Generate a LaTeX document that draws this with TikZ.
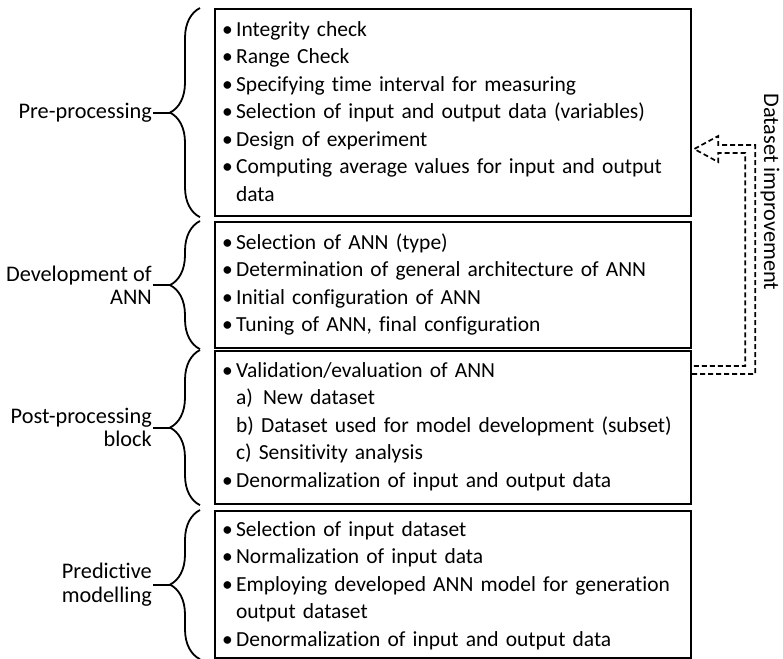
\documentclass[tikz,border=0pt]{standalone}
\usepackage{fontspec}
\setmainfont{Carlito}[Ligatures=NoCommon]
\usetikzlibrary{positioning,calc,decorations.pathreplacing}
\newcommand{\itm}{\makebox[14pt][l]{\textbullet}}
\newcommand{\cont}{\hspace*{14pt}}
\tikzset{
  stage/.style={rectangle,draw=black,line width=2.2pt,anchor=north west,text width=462pt,
                inner xsep=7pt,inner ysep=0pt,align=left,font=\fontsize{21.5pt}{27.5pt}\selectfont},
  lbl/.style={align=right,inner xsep=1pt,inner ysep=0pt,font=\fontsize{22.3pt}{23.5pt}\selectfont},
  brc/.style={decorate,decoration={brace,amplitude=30pt},line width=1.8pt},
  tie/.style={line width=1.8pt},
  fb/.style={line width=1.7pt,dash pattern=on 5pt off 3pt},
}
\begin{document}
\begin{tikzpicture}[x=1pt,y=-1pt]
  \useasboundingbox (0,0) rectangle (783,658);
  % the four stages
  \node[stage,text height=27pt,text depth=180pt] (pre) at (214,8) {%
    \itm Integrity check\\
    \itm Range Check\\
    \itm Specifying time interval for measuring\\
    \itm Selection of input and output data (variables)\\
    \itm Design of experiment\\
    \itm Computing average values for input and output\\
    \cont data};
  \node[stage,text height=27pt,text depth=99pt] (dev) at (214,221) {%
    \itm Selection of ANN (type)\\
    \itm Determination of general architecture of ANN\\
    \itm Initial configuration of ANN\\
    \itm Tuning of ANN, final configuration};
  \node[stage,text height=26pt,text depth=127pt] (post) at (214,350) {%
    \itm Validation/evaluation of ANN\\
    \cont\makebox[27pt][l]{a)}New dataset\\
    \cont b) Dataset used for model development (subset)\\
    \cont c) Sensitivity analysis\\
    \itm Denormalization of input and output data};
  \node[stage,text height=25pt,text depth=122pt] (pred) at (214,510) {%
    \itm Selection of input dataset\\
    \itm Normalization of input data\\
    \itm Employing developed ANN model for generation\\
    \cont output dataset\\
    \itm Denormalization of input and output data};
  % labels with braces
  \node[lbl,left=61pt of pre.west] (lpre) {Pre-processing};
  \node[lbl,left=61pt of dev.west] (ldev) {Development of\\ANN};
  \node[lbl,left=61pt of post.west] (lpost) {Post-processing\\block};
  \node[lbl,left=61pt of pred.west] (lpred) {Predictive\\modelling};
  \foreach \s in {pre,dev,post,pred}{
    \draw[brc] ([xshift=-14pt]\s.south west) -- ([xshift=-14pt]\s.north west);
    \coordinate[left=44pt of \s.west] (c\s);
    \draw[tie] (l\s) -- (c\s);
  }
  % feedback arrow
  \coordinate (fbtip) at ($(pre.north east)+(2,141)$);
  \draw[fb] ($(post.north east)+(0,24)$) -- ++(63,0) -- ++(0,-229) -- ++(-37,0) -- ++(0,-9)
    -- (fbtip) -- ++(24,13) -- ++(0,-9) -- ++(27,0) -- ++(0,213) -- ($(post.north east)+(0,16)$);
  \node[lbl,rotate=-90] (dsi) at (770,192) {Dataset improvement};
\end{tikzpicture}
\end{document}
